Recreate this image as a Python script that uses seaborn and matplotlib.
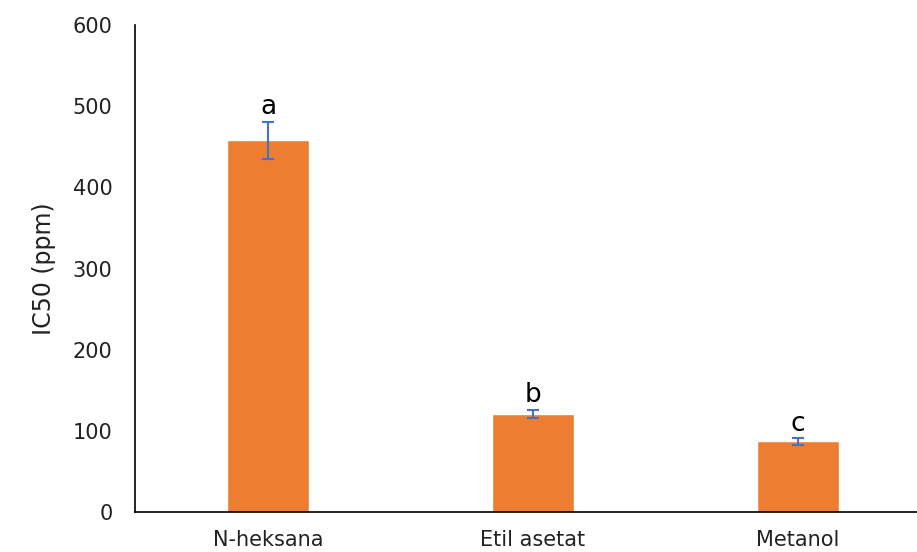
import pandas as pd
import matplotlib.pyplot as plt
import seaborn as sns

solvents = ['N-heksana', 'Etil asetat', 'Metanol']
ic50 = [458, 121, 87]
sd = [23, 5, 4]
letters = ['a', 'b', 'c']

sns.set_style('white')
plt.rcParams['font.family'] = ['DejaVu Sans']

df = pd.DataFrame({'solvent': solvents, 'ic50': ic50})

fig = plt.figure(figsize=(9.17, 5.52), dpi=100)
ax = fig.add_axes([0.147, 0.0725, 0.853, 0.882])

sns.barplot(data=df, x='solvent', y='ic50', color='#ED7D31', saturation=1,
            width=0.31, ax=ax)
ax.errorbar(range(len(solvents)), ic50, yerr=sd, fmt='none',
            ecolor='#4472C4', elinewidth=1.5, capsize=4, capthick=1.5)

for i, (v, e, lab) in enumerate(zip(ic50, sd, letters)):
    ax.text(i, v + e + 2, lab, ha='center', va='bottom', fontsize=19, color='black')

ax.set_ylim(0, 600)
ax.set_xlim(-0.503, 2.45)
ax.set_yticks(range(0, 601, 100))
ax.set_xlabel('')
ax.set_ylabel('IC50 (ppm)', fontsize=17, color='#222222', labelpad=12)
ax.tick_params(axis='both', length=0, labelsize=15, colors='#222222')
ax.tick_params(axis='y', pad=16)
ax.tick_params(axis='x', pad=13)

sns.despine(ax=ax, top=True, right=True)
for s in ['left', 'bottom']:
    ax.spines[s].set_color('black')
    ax.spines[s].set_linewidth(1.2)

plt.savefig('out.png', dpi=100)
plt.close()
